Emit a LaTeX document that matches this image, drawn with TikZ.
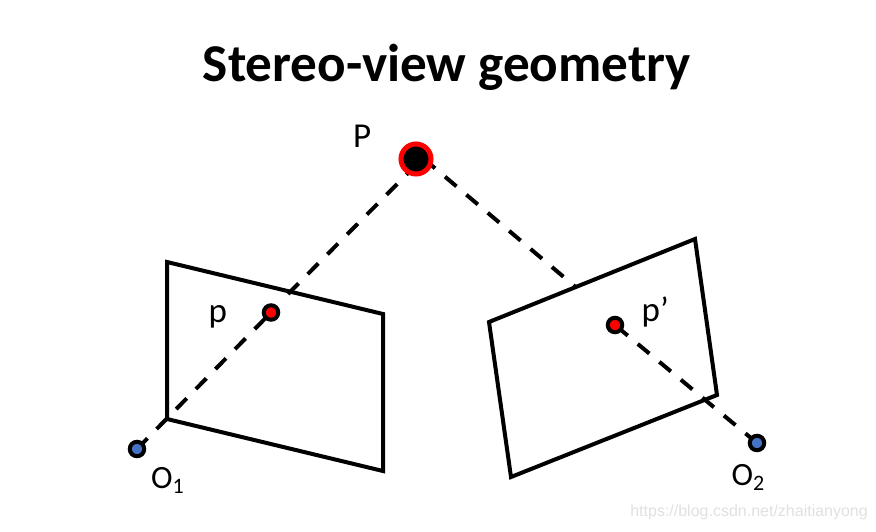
\documentclass[tikz,border=0pt]{standalone}
\usepackage{fontspec}
\setmainfont{Carlito}
\newfontfamily\wmfont{Liberation Sans}
\definecolor{bluept}{HTML}{4472C4}
\newcommand{\subdigit}[1]{\raisebox{-4.5pt}{\fontsize{22}{24}\selectfont #1}}
\tikzset{
  plane/.style={draw=black,line width=4pt,line join=miter},
  ray/.style={draw=black,line width=4pt,dash pattern=on 15pt off 13pt},
  ptred/.style={circle,draw=black,fill=red,line width=4pt,minimum size=14.5pt,inner sep=0pt},
  ptblue/.style={circle,draw=black,fill=bluept,line width=4pt,minimum size=14.5pt,inner sep=0pt},
  ptmain/.style={circle,draw=red,fill=black,line width=5pt,minimum size=30pt,inner sep=0pt},
  lab/.style={font=\fontsize{35}{38}\selectfont,text=black,inner sep=0pt,anchor=base west},
  labO/.style={font=\fontsize{32.5}{36}\selectfont,text=black,inner sep=0pt,anchor=base west},
  title/.style={font=\fontsize{53.2}{58}\selectfont\bfseries,text=black,inner sep=0pt},
  wm/.style={font=\fontsize{16}{18}\selectfont\wmfont,text=black!12,inner sep=0pt}
}
\begin{document}
\begin{tikzpicture}[x=1pt,y=-1pt]
\useasboundingbox (0,0) rectangle (876,531);
\node[title] (T) at (447,67) {Stereo-view geometry};
\coordinate (a1) at (167,262);
\coordinate (a2) at (383,314);
\coordinate (a3) at (383,471);
\coordinate (a4) at (167,419);
\coordinate (b1) at (489,322);
\coordinate (b2) at (695,239);
\coordinate (b3) at (717,395);
\coordinate (b4) at (511,477);
\coordinate (E) at (288,294);
\coordinate (Pb) at (420,161);
\coordinate (Pc) at (423.6,158.6);
\coordinate (R) at (575,286.5);
\draw[plane] (a1) -- (a2) -- (a3) -- (a4) -- cycle;
\draw[plane] (b1) -- (b2) -- (b3) -- (b4) -- cycle;
\node[ptmain,draw=none,fill=none] (P) at (416,159) {};
\node[ptred,draw=none,fill=none] (p) at (271,312.5) {};
\node[ptred,draw=none,fill=none] (q) at (615,325) {};
\node[ptblue,draw=none,fill=none] (O1) at (137,449) {};
\node[ptblue,draw=none,fill=none] (O2) at (757,443) {};
\draw[ray] (O1.center) -- (p.center);
\draw[ray] (E) -- (Pb);
\draw[ray] (Pc) -- (R);
\draw[ray] (O2.center) -- (q.center);
\node[ptmain] at (P.center) {};
\node[ptred] at (p.center) {};
\node[ptred] at (q.center) {};
\node[ptblue] at (O1.center) {};
\node[ptblue] at (O2.center) {};
\node[lab] (lP) at (353,147) {P};
\node[lab] (lp) at (208.5,322) {p};
\node[lab] (lq) at (641.5,321) {p’};
\node[labO] (l1) at (151,488.5) {O\subdigit{1}};
\node[labO] (l2) at (731.5,485.5) {O\subdigit{2}};
\node[wm,anchor=east] (W) at (868,512) {https://blog.csdn.net/zhaitianyong};
\end{tikzpicture}
\end{document}
